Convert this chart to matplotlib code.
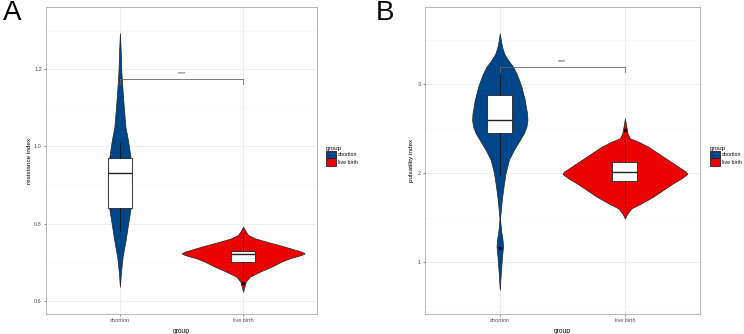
# Violin + box plots of resistance / pulsatility index by group

import numpy as np
import matplotlib
matplotlib.use("Agg")
import matplotlib.pyplot as plt
from matplotlib.patches import Patch

plt.rcParams["font.family"] = ["Liberation Sans", "DejaVu Sans"]

groups = ["abortion", "live birth"]
colors = ["#00468B", "#ED0000"]

# violin outlines: y value and half width (category units)
ri_abortion_y = [1.294, 1.25, 1.2, 1.17, 1.1, 1.05, 1.017, 0.97, 0.93, 0.88, 0.84, 0.80, 0.757, 0.714, 0.672, 0.636]
ri_abortion_w = [0.0, 0.006, 0.011, 0.016, 0.032, 0.045, 0.065, 0.087, 0.093, 0.093, 0.087, 0.067, 0.046, 0.022, 0.008, 0.0]
ri_live_y = [0.792, 0.7834, 0.7704, 0.7618, 0.7531, 0.7401, 0.7271, 0.723, 0.7185, 0.71, 0.7012, 0.6882, 0.6752, 0.6623, 0.6493, 0.6363, 0.6233]
ri_live_w = [0.0, 0.014, 0.041, 0.095, 0.189, 0.338, 0.473, 0.5, 0.473, 0.379, 0.311, 0.23, 0.136, 0.054, 0.022, 0.011, 0.0]

pi_abortion_y = [3.574, 3.499, 3.423, 3.349, 3.273, 3.198, 3.124, 3.048, 2.973, 2.899, 2.823, 2.748, 2.674, 2.598,
                 2.523, 2.448, 2.373, 2.26, 2.148, 2.0, 1.85, 1.70, 1.548, 1.49, 1.36, 1.25, 1.172, 1.06, 0.873, 0.685]
pi_abortion_w = [0.0, 0.008, 0.018, 0.034, 0.066, 0.106, 0.133, 0.154, 0.173, 0.186, 0.2, 0.208, 0.218, 0.221,
                 0.213, 0.192, 0.16, 0.112, 0.072, 0.046, 0.03, 0.016, 0.006, 0.002, 0.01, 0.022, 0.026, 0.018, 0.008, 0.0]
pi_live_y = [2.617, 2.523, 2.449, 2.392, 2.354, 2.298, 2.223, 2.148, 2.073, 2.016, 1.99, 1.942, 1.886, 1.811, 1.735, 1.661, 1.604, 1.548, 1.49]
pi_live_w = [0.0, 0.011, 0.021, 0.04, 0.107, 0.186, 0.266, 0.346, 0.426, 0.488, 0.498, 0.453, 0.386, 0.306, 0.226, 0.133, 0.053, 0.021, 0.0]

# box statistics: q1, median, q3, lower whisker, upper whisker, outliers
ri_box = [(0.84, 0.93, 0.969, 0.78, 1.01, []), (0.70, 0.72, 0.73, 0.655, 0.775, [0.645])]
pi_box = [(2.455, 2.598, 2.88, 1.98, 3.10, [1.16]), (1.912, 2.016, 2.122, 1.62, 2.42, [2.48])]


def panel(ax, profiles, boxes, ylabel, ylim, major, minor, bracket_y):
    ax.set_xlim(0.4, 2.6)
    ax.set_ylim(*ylim)
    ax.set_yticks(major)
    ax.set_yticks(minor, minor=True)
    ax.set_xticks([1, 2])
    ax.set_xticklabels(groups)
    ax.grid(True, which="major", color="#ebebeb", lw=0.6, zorder=0)
    ax.grid(True, which="minor", axis="y", color="#f4f4f4", lw=0.4, zorder=0)
    ax.set_axisbelow(True)
    for s in ax.spines.values():
        s.set_color("#aaaaaa")
        s.set_linewidth(0.6)
    ax.tick_params(which="major", length=1.5, width=0.5, color="#555555", pad=1.5,
                   labelsize=4.0, labelcolor="#4d4d4d")
    ax.tick_params(which="minor", length=0)

    for i, (ys, ws) in enumerate(profiles):
        ys = np.array(ys)
        ws = np.array(ws)
        ax.fill_betweenx(ys, i + 1 - ws, i + 1 + ws, facecolor=colors[i],
                         edgecolor="#222222", lw=0.5, zorder=2)

    stats = []
    for q1, med, q3, lo, hi, fl in boxes:
        stats.append(dict(q1=q1, med=med, q3=q3, whislo=lo, whishi=hi, fliers=fl))
    ax.bxp(stats, positions=[1, 2], widths=0.2, patch_artist=True, manage_ticks=False,
           boxprops=dict(facecolor="white", edgecolor="#333333", lw=0.7),
           medianprops=dict(color="#222222", lw=1.0),
           whiskerprops=dict(color="#111111", lw=0.6),
           capprops=dict(lw=0),
           flierprops=dict(marker="o", markersize=1.5, markerfacecolor="black",
                           markeredgecolor="black"),
           zorder=3)

    top, tip = bracket_y
    ax.plot([1, 1, 2, 2], [tip, top, top, tip], color="#666666", lw=0.6, zorder=4)
    ax.text(1.5, top + (ylim[1] - ylim[0]) * 0.008, "****", ha="center", va="bottom",
            fontsize=3.8, color="#333333")

    ax.set_ylabel(ylabel, fontsize=4.6)
    ax.set_xlabel("group", fontsize=4.8)


fig = plt.figure(figsize=(7.44, 3.34), dpi=100)
axA = fig.add_axes([46 / 744, 1 - 314 / 334, 271 / 744, 307 / 334])
axB = fig.add_axes([424.7 / 744, 1 - 314 / 334, 275.3 / 744, 307 / 334])

panel(axA, [(ri_abortion_y, ri_abortion_w), (ri_live_y, ri_live_w)], ri_box,
      "resistance index", (0.5655, 1.3616), [0.6, 0.8, 1.0, 1.2], [0.7, 0.9, 1.1, 1.3],
      (1.175, 1.161))
panel(axB, [(pi_abortion_y, pi_abortion_w), (pi_live_y, pi_live_w)], pi_box,
      "pulsatility index", (0.414, 3.87), [1, 2, 3], [0.5, 1.5, 2.5, 3.5],
      (3.198, 3.14))

axA.yaxis.set_label_coords(-0.05, 0.5)
axA.xaxis.set_label_coords(0.5, -0.045)
axB.yaxis.set_label_coords(-0.038, 0.5)
axB.xaxis.set_label_coords(0.5, -0.045)

handles = [Patch(facecolor=c, edgecolor="#222222", lw=0.6) for c in colors]
for x in (326 / 744, 710 / 744):
    leg = fig.legend(handles, groups, loc="upper left", bbox_to_anchor=(x, 1 - 146 / 334),
                     bbox_transform=fig.transFigure, frameon=False, fontsize=3.8,
                     title="group", title_fontsize=4.6, alignment="left",
                     handlelength=1.8, handleheight=1.8, labelspacing=0.0,
                     handletextpad=0.4, borderpad=0, borderaxespad=0)

fig.text(0.004, 1.0, "A", fontsize=20, va="top", ha="left")
fig.text(0.505, 1.0, "B", fontsize=20, va="top", ha="left")

fig.savefig("out.png", dpi=100)
